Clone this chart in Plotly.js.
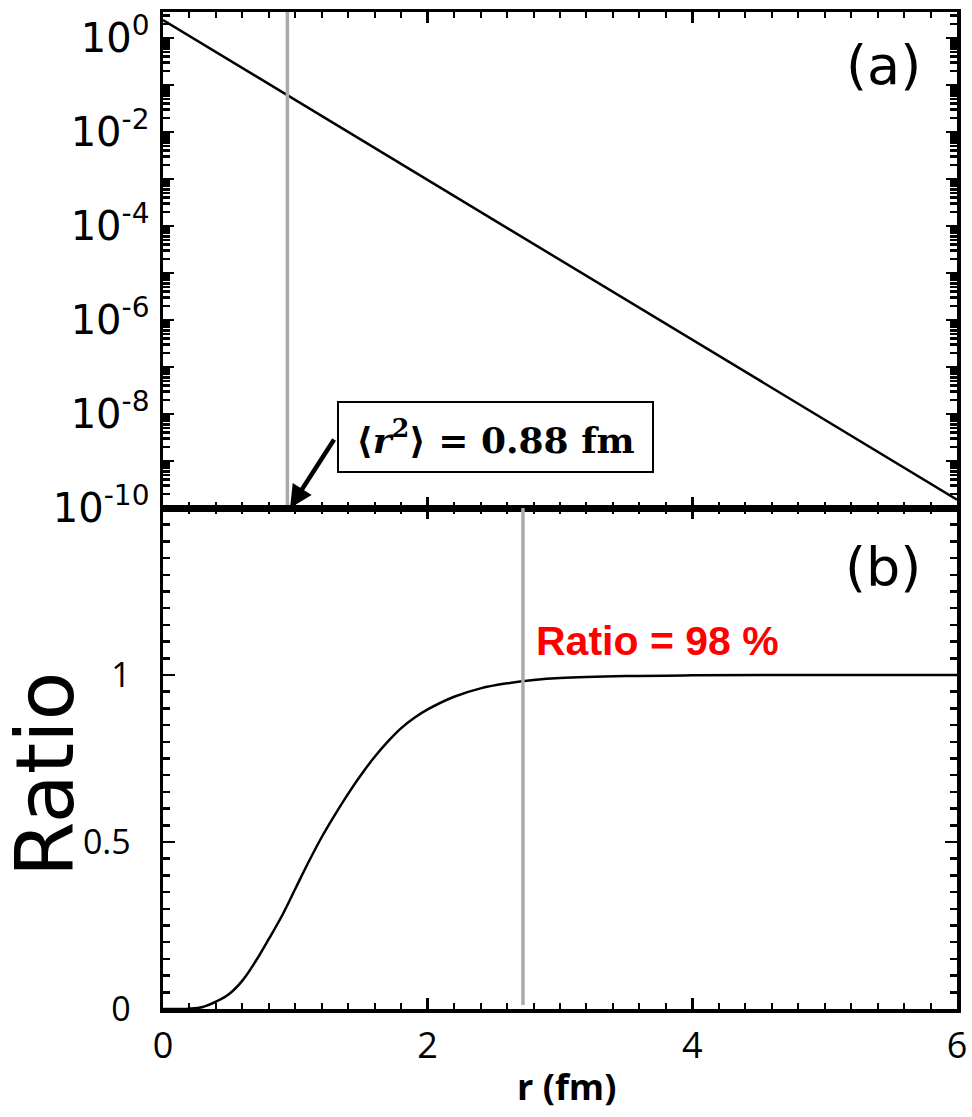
<!DOCTYPE html>
<html>
<head>
<meta charset="utf-8">
<script src="https://cdn.plot.ly/plotly-3.0.1.min.js"></script>
<style>html,body{margin:0;padding:0;background:#fff;}#chart{width:972px;height:1117px;}</style>
</head>
<body>
<div id="chart"></div>
<script>
// ---- data ----
const densR = [0, 1, 2, 3, 4, 5, 6];
const densVal = [2.4, 0.048, 9.5e-4, 1.9e-5, 3.8e-7, 7.6e-9, 1.5e-10];

const ratioR = [0, 0.2, 0.3, 0.4, 0.5, 0.6, 0.7, 0.8, 0.9, 1.0, 1.1, 1.2, 1.3, 1.4, 1.5, 1.6, 1.7, 1.8, 1.9, 2.0, 2.2, 2.4, 2.6, 2.8, 3.0, 3.5, 4.0, 5.0, 6.0];
const ratioVal = [0, 0.001, 0.006, 0.022, 0.045, 0.085, 0.143, 0.21, 0.28, 0.36, 0.44, 0.515, 0.582, 0.645, 0.703, 0.755, 0.801, 0.841, 0.872, 0.897, 0.935, 0.96, 0.975, 0.985, 0.991, 0.997, 0.999, 1.0, 1.0];

const rmsLineX = 0.94;      // gray line, panel (a)
const ratioLineX = 2.72;    // gray line, panel (b)

const logTickVals = [1, 1e-1, 1e-2, 1e-3, 1e-4, 1e-5, 1e-6, 1e-7, 1e-8, 1e-9, 1e-10];
const logTickText = ['10<sup>0</sup>', ' ', '10<sup>-2</sup>', ' ', '10<sup>-4</sup>', ' ', '10<sup>-6</sup>', ' ', '10<sup>-8</sup>', ' ', '10<sup>-10</sup>'];
const ratioTickVals = [0, 0.5, 1];
const ratioTickText = ['0', '0.5', '1'];
const rTickVals = [0, 2, 4, 6];
const rTickText = ['0', '2', '4', '6'];

const rmsLabel = '<b>⟨<i>r</i><sup>2</sup>⟩ = 0.88 fm</b>';
const ratioLabel = '<b>Ratio = 98 %</b>';

// minor tick positions
const logMinor = [];
for (let e = -10; e <= 0; e++) for (let m = 2; m <= 9; m++) logMinor.push(m * Math.pow(10, e));
const ratioMinor = [];
const ratioMinorText = [];
for (let k = 0; k <= 30; k++) {
  const v = Math.round(k * 5) / 100;
  ratioMinor.push(v);
  const idx = ratioTickVals.indexOf(v);
  ratioMinorText.push(idx >= 0 ? ratioTickText[idx] : ' ');
}

const traces = [
  {x: [rmsLineX, rmsLineX], y: [1e-10, 3.6], xaxis: 'x', yaxis: 'y3', mode: 'lines',
   line: {color: '#aaaaaa', width: 3.5}, hoverinfo: 'skip'},
  {x: densR, y: densVal, xaxis: 'x', yaxis: 'y', mode: 'lines',
   line: {color: '#000', width: 2.5}},
  {x: [ratioLineX, ratioLineX], y: [0.012, 1.5], xaxis: 'x2', yaxis: 'y4', mode: 'lines',
   line: {color: '#aaaaaa', width: 3.5}, hoverinfo: 'skip'},
  {x: ratioR, y: ratioVal, xaxis: 'x2', yaxis: 'y2', mode: 'lines',
   line: {color: '#000', width: 2.5, shape: 'spline', smoothing: 1, simplify: false}}
];

const axCommon = {
  showline: true, linecolor: '#000', linewidth: 3.5, mirror: 'ticks',
  ticks: 'inside', tickcolor: '#000', tickwidth: 2.5, showgrid: false, zeroline: false
};

const layout = {
  width: 972, height: 1117,
  margin: {l: 163, r: 15, t: 12, b: 108},
  paper_bgcolor: '#fff', plot_bgcolor: '#fff',
  showlegend: false,
  font: {family: 'DejaVu Sans', color: '#000'},
  xaxis: Object.assign({}, axCommon, {
    anchor: 'y', range: [0, 6], tickmode: 'array', tickvals: rTickVals, showticklabels: false,
    ticklen: 11, minor: {dtick: 0.2, tick0: 0, ticklen: 6, tickwidth: 2, tickcolor: '#000', ticks: 'inside'}
  }),
  yaxis: Object.assign({}, axCommon, {
    anchor: 'x', domain: [0.5025, 1], type: 'log', range: [-10.002, 0.553],
    tickmode: 'array', tickvals: logTickVals, ticktext: logTickText, ticklen: 11,
    tickfont: {family: 'DejaVu Sans', size: 40, color: '#000'}, ticklabelstandoff: 2
  }),
  yaxis3: Object.assign({}, axCommon, {
    anchor: 'x', overlaying: 'y', side: 'left', type: 'log', range: [-10.002, 0.553],
    tickmode: 'array', tickvals: logMinor, ticklen: 7, tickwidth: 2.5, showticklabels: false
  }),
  xaxis2: Object.assign({}, axCommon, {
    anchor: 'y2', range: [0, 6], tickmode: 'array', tickvals: rTickVals, ticktext: rTickText,
    ticklen: 11, tickfont: {family: 'Open Sans', size: 36, color: '#000'}, ticklabelstandoff: 2,
    minor: {dtick: 0.2, tick0: 0, ticklen: 6, tickwidth: 2, tickcolor: '#000', ticks: 'inside'}
  }),
  yaxis2: Object.assign({}, axCommon, {
    anchor: 'x2', domain: [0, 0.5025], range: [0, 1.5], tickmode: 'array', tickvals: ratioMinor, ticktext: ratioMinorText,
    ticklen: 7, tickfont: {family: 'Open Sans', size: 34, color: '#000'}, ticklabelstandoff: 22
  }),
  yaxis4: Object.assign({}, axCommon, {
    anchor: 'x2', overlaying: 'y2', side: 'left', range: [0, 1.5],
    tickmode: 'array', tickvals: ratioTickVals, ticklen: 12, tickwidth: 2.5, showticklabels: false
  }),
  annotations: [
    {xref: 'paper', yref: 'paper', x: 0.907, y: 0.9468, text: '(a)', showarrow: false,
     xanchor: 'center', yanchor: 'middle', font: {family: 'DejaVu Sans', size: 54, color: '#000'}},
    {xref: 'paper', yref: 'paper', x: 0.907, y: 0.4433, text: '(b)', showarrow: false,
     xanchor: 'center', yanchor: 'middle', font: {family: 'DejaVu Sans', size: 54, color: '#000'}},
    {xref: 'x', yref: 'y', x: 2.51, y: -8.49, text: rmsLabel, showarrow: false,
     xanchor: 'center', yanchor: 'middle', width: 305, height: 60, borderpad: 4,
     bordercolor: '#000', borderwidth: 2, bgcolor: '#fff',
     font: {family: 'DejaVu Serif', size: 36, color: '#000'}},
    {xref: 'x', yref: 'y', x: 0.96, y: -10, text: '', showarrow: true, ax: 45, ay: -70,
     arrowhead: 2, arrowsize: 1, arrowwidth: 4.5, arrowcolor: '#000', standoff: 0, startstandoff: 0},
    {xref: 'x2', yref: 'y2', x: 3.74, y: 1.102, text: ratioLabel, showarrow: false,
     xanchor: 'center', yanchor: 'middle', font: {family: 'Liberation Sans', size: 41, color: '#ff0000'}},
    {xref: 'paper', yref: 'paper', x: -0.1486, y: 0.2347, text: 'Ratio', showarrow: false, textangle: -90,
     xanchor: 'center', yanchor: 'middle', font: {family: 'DejaVu Sans', size: 80, color: '#000'}},
    {xref: 'paper', yref: 'paper', x: 0.5076, y: -0.0782, text: '<b>r (fm)</b>', showarrow: false,
     xanchor: 'center', yanchor: 'middle', font: {family: 'Open Sans', size: 36, color: '#000'}}
  ]
};

Plotly.newPlot('chart', traces, layout, {staticPlot: true, displayModeBar: false});
</script>
</body>
</html>
